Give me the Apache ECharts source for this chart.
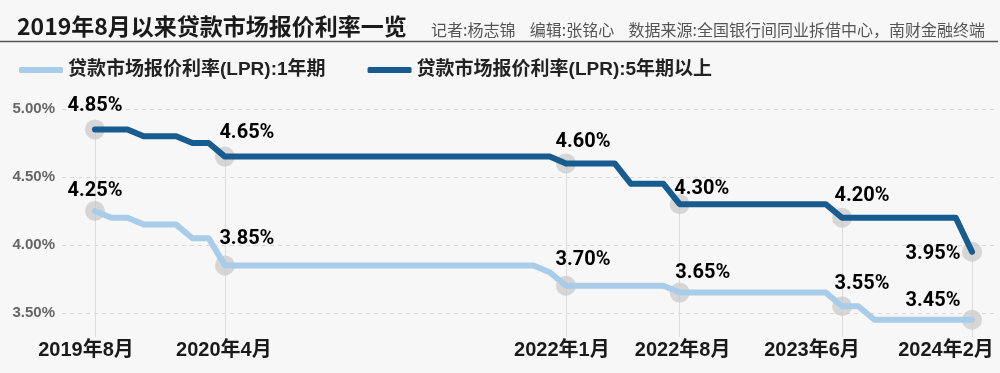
<!DOCTYPE html>
<html>
<head>
<meta charset="utf-8">
<style>
html,body{margin:0;padding:0;background:#f7f7f7;}
#c{width:1000px;height:373px;}
</style>
<script src="https://cdn.jsdelivr.net/npm/echarts@6/dist/echarts.min.js"></script>
</head>
<body>
<div id="c"></div>
<script>
// ---------------- data ----------------
const MONTHS = ['2019-08','2019-09','2019-10','2019-11','2019-12','2020-01','2020-02','2020-03','2020-04','2020-05','2020-06','2020-07','2020-08','2020-09','2020-10','2020-11','2020-12','2021-01','2021-02','2021-03','2021-04','2021-05','2021-06','2021-07','2021-08','2021-09','2021-10','2021-11','2021-12','2022-01','2022-02','2022-03','2022-04','2022-05','2022-06','2022-07','2022-08','2022-09','2022-10','2022-11','2022-12','2023-01','2023-02','2023-03','2023-04','2023-05','2023-06','2023-07','2023-08','2023-09','2023-10','2023-11','2023-12','2024-01','2024-02'];
const LPR_1Y = [4.25,4.20,4.20,4.15,4.15,4.15,4.05,4.05,3.85,3.85,3.85,3.85,3.85,3.85,3.85,3.85,3.85,3.85,3.85,3.85,3.85,3.85,3.85,3.85,3.85,3.85,3.85,3.85,3.80,3.70,3.70,3.70,3.70,3.70,3.70,3.70,3.65,3.65,3.65,3.65,3.65,3.65,3.65,3.65,3.65,3.65,3.55,3.55,3.45,3.45,3.45,3.45,3.45,3.45,3.45];
const LPR_5Y = [4.85,4.85,4.85,4.80,4.80,4.80,4.75,4.75,4.65,4.65,4.65,4.65,4.65,4.65,4.65,4.65,4.65,4.65,4.65,4.65,4.65,4.65,4.65,4.65,4.65,4.65,4.65,4.65,4.65,4.60,4.60,4.60,4.60,4.45,4.45,4.45,4.30,4.30,4.30,4.30,4.30,4.30,4.30,4.30,4.30,4.30,4.20,4.20,4.20,4.20,4.20,4.20,4.20,4.20,3.95];
const KEY_MONTHS = ['2019-08','2020-04','2022-01','2022-08','2023-06','2024-02'];
const X_TICK_LABELS = ['2019年8月','2020年4月','2022年1月','2022年8月','2023年6月','2024年2月'];
const Y_TICKS = [3.5, 4.0, 4.5, 5.0];
const SERIES_NAMES = ['贷款市场报价利率(LPR):1年期','贷款市场报价利率(LPR):5年期以上'];
const TITLE = '2019年8月以来贷款市场报价利率一览';
const CREDIT = '记者:杨志锦    编辑:张铭心    数据来源:全国银行间同业拆借中心，南财金融终端';

// ---------------- styles ----------------
const C_LIGHT = '#a9cde9';
const C_DARK = '#175b8f';
const GUIDE_BASE = 3.325;
const LBL_OFF_1Y = [[0,-20],[22,-26],[17,-26],[23,-20],[20,-22],[-39,-19]];
const LBL_OFF_5Y = [[0,-23],[22,-24],[17,-21],[22,-15],[20,-22],[-39,2]];
const X_LABEL_SHIFT_MONTHS = [-0.55,-0.06,-0.25,0.18,-1.85,-1.6];   // label nudge (style)
const NUM_FONT = 'Roboto, "Liberation Sans", sans-serif';
const AX_FONT = '"Liberation Sans", "Noto Sans CJK SC", sans-serif';
const CJK_FONT = '"Noto Sans CJK SC", sans-serif';

const keyIdx = KEY_MONTHS.map(m => MONTHS.indexOf(m));
const labelPos = keyIdx.map((i, k) => i + X_LABEL_SHIFT_MONTHS[k]);
const pts = arr => arr.map((v, i) => [i, v]);

function keySeries(arr, offs) {
  return {
    type: 'scatter',
    z: 1,
    symbol: 'circle',
    symbolSize: 20,
    itemStyle: { color: 'rgba(200,200,200,0.7)', opacity: 1 },
    silent: true,
    data: keyIdx.map((i, k) => ({
      value: [i, arr[i]],
      label: { offset: offs[k] }
    })),
    label: {
      show: true,
      position: 'inside',
      formatter: p => p.value[1].toFixed(2) + '%',
      fontFamily: NUM_FONT,
      fontWeight: 'bold',
      fontSize: 20,
      color: '#000',
      opacity: 1
    },
    markLine: {
      silent: true,
      symbol: 'none',
      z: 0,
      label: { show: false },
      lineStyle: { color: '#dcdcdc', width: 1, type: 'solid' },
      data: keyIdx.map(i => [{ coord: [i, arr[i]] }, { coord: [i, GUIDE_BASE] }])
    }
  };
}

const chart = echarts.init(document.getElementById('c'), null, { renderer: 'canvas' });
chart.setOption({
  backgroundColor: '#f7f7f7',
  animation: false,
  title: [
    { text: TITLE, left: 12, top: 10,
      textStyle: { fontFamily: CJK_FONT, fontSize: 23, fontWeight: 'bold', color: '#1a1a1a' } },
    { text: CREDIT, right: 10, top: 17,
      textStyle: { fontFamily: CJK_FONT, fontSize: 16, fontWeight: 'normal', color: '#555' } }
  ],
  graphic: [{
    type: 'line', shape: { x1: 0, y1: 41.5, x2: 998, y2: 41.5 },
    style: { stroke: '#555', lineWidth: 1.5 }, silent: true
  }],
  legend: {
    left: 14, top: 54,
    itemWidth: 44, itemHeight: 6, itemGap: 42,
    icon: 'roundRect',
    data: SERIES_NAMES,
    textStyle: { fontFamily: AX_FONT, fontSize: 19, fontWeight: 'bold', color: '#222', lineHeight: 22 }
  },
  grid: { left: 62, right: 2, top: 109, height: 272, containLabel: false, outerBoundsMode: 'none' },
  xAxis: {
    type: 'value',
    min: -2.03, max: 55.6,
    offset: -49,
    axisLine: { show: false }, axisTick: { show: false }, splitLine: { show: false },
    axisLabel: {
      customValues: labelPos,
      margin: 8,
      showMinLabel: true, showMaxLabel: true, hideOverlap: false,
      formatter: v => {
        let best = 0;
        labelPos.forEach((p, k) => { if (Math.abs(p - v) < Math.abs(labelPos[best] - v)) best = k; });
        return X_TICK_LABELS[best];
      },
      fontFamily: AX_FONT, fontSize: 20, fontWeight: 'bold', color: '#1a1a1a', lineHeight: 20
    }
  },
  yAxis: {
    type: 'value',
    min: 3.0, max: 5.0, interval: 0.5,
    axisLine: { show: false }, axisTick: { show: false },
    splitLine: { show: true, lineStyle: { color: '#d8d8d8', type: [4, 4], width: 1 } },
    axisLabel: {
      showMinLabel: false,
      margin: 7,
      formatter: v => Y_TICKS.some(t => Math.abs(t - v) < 1e-6) ? v.toFixed(2) + '%' : '',
      fontFamily: '"Liberation Sans", sans-serif', fontWeight: 'bold', fontSize: 15, color: '#666'
    }
  },
  series: [
    { name: SERIES_NAMES[0], type: 'line', z: 3, data: pts(LPR_1Y), showSymbol: false, symbol: 'none',
      lineStyle: { color: C_LIGHT, width: 6, cap: 'round', join: 'round' }, itemStyle: { color: C_LIGHT } },
    { name: SERIES_NAMES[1], type: 'line', z: 3, data: pts(LPR_5Y), showSymbol: false, symbol: 'none',
      lineStyle: { color: C_DARK, width: 6, cap: 'round', join: 'round' }, itemStyle: { color: C_DARK } },
    keySeries(LPR_1Y, LBL_OFF_1Y),
    keySeries(LPR_5Y, LBL_OFF_5Y)
  ]
});
</script>
</body>
</html>
